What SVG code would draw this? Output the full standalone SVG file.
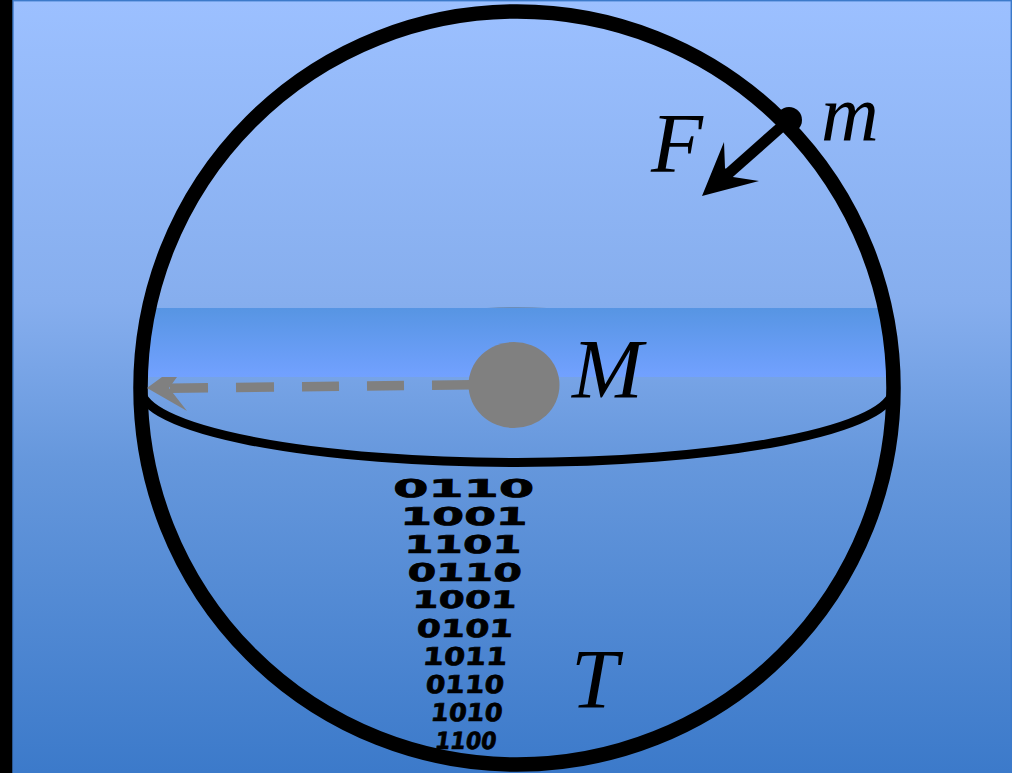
<svg xmlns="http://www.w3.org/2000/svg" width="1012" height="773" viewBox="0 0 1012 773">
<defs>
<linearGradient id="sky" x1="0" y1="0" x2="0" y2="1">
<stop offset="0" stop-color="#9cc0ff"/>
<stop offset="0.39" stop-color="#86aeee"/>
<stop offset="0.6" stop-color="#6597dc"/>
<stop offset="1" stop-color="#3c7aca"/>
</linearGradient>
<linearGradient id="band" x1="0" y1="0" x2="0" y2="1">
<stop offset="0" stop-color="#5795e3"/>
<stop offset="1" stop-color="#72a1ff"/>
</linearGradient>
<clipPath id="inside"><circle cx="517" cy="388" r="376.500"/></clipPath>
</defs>
<style>
.sym{font-family:"Liberation Serif","Times New Roman",serif;font-style:italic;fill:#000}
.bit{font-family:"DejaVu Sans",sans-serif;font-weight:bold;font-size:24.5px;fill:#000;stroke:#000;stroke-width:.7px}
.gray{fill:#808080}
</style>
<rect width="1012" height="773" fill="#000"/>
<rect x="13" y="0.7" width="998.3" height="771.6" fill="url(#sky)" stroke="#3c7aca" stroke-width="1.4"/>
<g id="equator-band" clip-path="url(#inside)">
<rect x="130" y="308" width="780" height="69" fill="url(#band)"/>
<path d="M487 308Q517 306 547 308Z" fill="#6c8db8"/>
</g>
<g id="sphere">
<path d="M141 389A376 73.500 0 0 0 893 389" fill="none" stroke="#000" stroke-width="9"/>
<circle cx="517" cy="388" r="376.500" fill="none" stroke="#000" stroke-width="14.500"/>
</g>
<g id="connectors">
<g class="radius">
<path d="M170 388.300L208 387.800M236 387.600L274 387.100M302 386.800L339 386.300M367 386L404 385.500M432 385.200L472 384.700" stroke="#808080" stroke-width="9.500" fill="none"/>
<polygon class="gray" points="147,388 162,377 177,377 169,388 187,411"/>
</g>
<g class="force">
<path d="M789 120L728 174" stroke="#000" stroke-width="11" fill="none"/>
<polygon points="702,196 724,142 725,168 733,177 759,181"/>
</g>
</g>
<g id="mass-M">
<ellipse cx="514" cy="385" rx="45.500" ry="43" class="gray"/>
<text x="572" y="398" font-size="85" class="sym">M</text>
</g>
<g id="mass-m">
<circle cx="789" cy="120" r="13"/>
<text x="821" y="140" font-size="80" class="sym">m</text>
</g>
<g id="label-F"><text x="651" y="172" font-size="85" class="sym">F</text></g>
<g id="label-T"><text x="571" y="708" font-size="85" class="sym">T</text></g>
<g id="bits">
<text class="bit" transform="matrix(2.07 0 -.02 1 393 497)">0110</text>
<text class="bit" transform="matrix(1.87 0 -.05 1 400 525)">1001</text>
<text class="bit" transform="matrix(1.72 0 -.06 1 404 553)">1101</text>
<text class="bit" transform="matrix(1.68 0 -.07 1 407 581)">0110</text>
<text class="bit" transform="matrix(1.53 0 -.08 .98 412 608)">1001</text>
<text class="bit" transform="matrix(1.42 0 -.09 1 416 637)">0101</text>
<text class="bit" transform="matrix(1.24 0 -.1 1 422 665)">1011</text>
<text class="bit" transform="matrix(1.15 0 -.1 1 425 693)">0110</text>
<text class="bit" transform="matrix(1.05 0 -.12 1 430 721)">1010</text>
<text class="bit" transform="matrix(.9 0 -.14 .96 434 749)">1100</text>
</g>
</svg>
